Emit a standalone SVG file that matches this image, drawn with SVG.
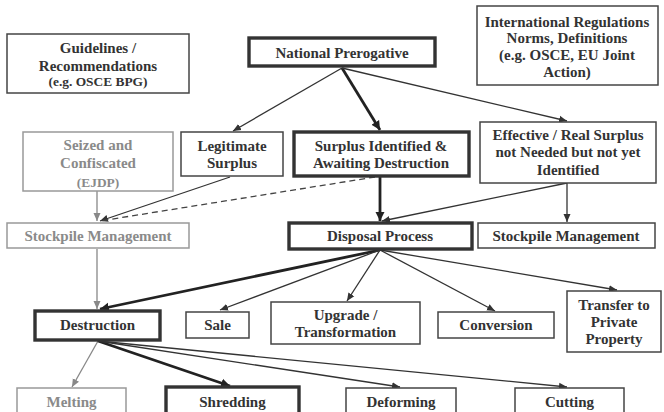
<svg xmlns="http://www.w3.org/2000/svg" width="664" height="412" viewBox="0 0 664 412">
<style>
text{font-family:"Liberation Serif","Times New Roman",serif;font-weight:bold;font-size:15px;fill:#333;text-anchor:middle}
text.g{fill:#8a8a8a}
text.s{font-size:13.4px}
rect{fill:#fff}
.thin{stroke:#444;stroke-width:1.5}
.thick{stroke:#333;stroke-width:3.4}
.gray{stroke:#999;stroke-width:1.5}
line{fill:none}
.c{stroke:#333;stroke-width:1.3}
.cT{stroke:#222;stroke-width:2.8}
.cG{stroke:#888;stroke-width:1.3}
.cD{stroke:#444;stroke-width:1.3;stroke-dasharray:6,4}
</style>
<defs>
<marker id="a" markerUnits="userSpaceOnUse" markerWidth="10" markerHeight="8" refX="8" refY="4" orient="auto"><path d="M0,0.5 L8,4 L0,7.5 Z" fill="#333"/></marker>
<marker id="aT" markerUnits="userSpaceOnUse" markerWidth="12" markerHeight="10" refX="9" refY="5" orient="auto"><path d="M0,0.5 L9,5 L0,9.5 Z" fill="#222"/></marker>
<marker id="aG" markerUnits="userSpaceOnUse" markerWidth="10" markerHeight="8" refX="8" refY="4" orient="auto"><path d="M0,0.5 L8,4 L0,7.5 Z" fill="#888"/></marker>
</defs>
<rect width="664" height="412" fill="#fff"/>
<g id="connectors">
<line class="c" x1="342" y1="68" x2="233" y2="131" marker-end="url(#a)"/>
<line class="cT" x1="342" y1="68" x2="380" y2="130" marker-end="url(#aT)"/>
<line class="c" x1="342" y1="68" x2="567" y2="121" marker-end="url(#a)"/>
<line class="cG" x1="97" y1="191" x2="97" y2="221" marker-end="url(#aG)"/>
<line class="c" x1="230" y1="177" x2="100" y2="221" marker-end="url(#a)"/>
<line class="cD" x1="375" y1="177" x2="100" y2="221"/>
<line class="cT" x1="380" y1="176" x2="380" y2="221" marker-end="url(#aT)"/>
<line class="c" x1="567" y1="183" x2="382" y2="221" marker-end="url(#a)"/>
<line class="c" x1="567" y1="183" x2="567" y2="222" marker-end="url(#a)"/>
<line class="cG" x1="97" y1="249" x2="97" y2="309" marker-end="url(#aG)"/>
<line class="cT" x1="380" y1="250" x2="100" y2="309" marker-end="url(#aT)"/>
<line class="c" x1="380" y1="250" x2="220" y2="310" marker-end="url(#a)"/>
<line class="c" x1="380" y1="250" x2="347" y2="301" marker-end="url(#a)"/>
<line class="c" x1="380" y1="250" x2="495" y2="311" marker-end="url(#a)"/>
<line class="c" x1="380" y1="250" x2="617" y2="290" marker-end="url(#a)"/>
<line class="cG" x1="98" y1="341" x2="72" y2="387" marker-end="url(#aG)"/>
<line class="cT" x1="98" y1="341" x2="230" y2="386" marker-end="url(#aT)"/>
<line class="c" x1="98" y1="341" x2="400" y2="387" marker-end="url(#a)"/>
<line class="c" x1="98" y1="341" x2="567" y2="387" marker-end="url(#a)"/>
</g>
<g id="guidelines"><rect class="thin" x="7" y="34" width="182" height="59"/><text x="98" y="53">Guidelines /</text><text x="98" y="70.5">Recommendations</text><text class="s" x="98" y="86">(e.g. OSCE BPG)</text></g>
<g id="national"><rect class="thick" x="249" y="38" width="186" height="28"/><text x="342" y="57.5">National Prerogative</text></g>
<g id="international"><rect class="thin" x="477" y="6" width="181" height="79"/><text x="567" y="26.5">International Regulations</text><text x="567" y="43">Norms, Definitions</text><text x="567" y="60">(e.g. OSCE, EU Joint</text><text x="567" y="77">Action)</text></g>
<g id="seized"><rect class="gray" x="23" y="132" width="150" height="59"/><text class="g" x="98" y="150">Seized and</text><text class="g" x="98" y="168">Confiscated</text><text class="g s" x="98" y="186.5">(EJDP)</text></g>
<g id="legitimate"><rect class="thin" x="181" y="132" width="102" height="44"/><text x="232" y="151">Legitimate</text><text x="232" y="168">Surplus</text></g>
<g id="identified"><rect class="thick" x="294" y="132" width="175" height="44"/><text x="381" y="150.5">Surplus Identified &amp;</text><text x="381" y="168">Awaiting Destruction</text></g>
<g id="effective"><rect class="thin" x="480" y="122" width="176" height="61"/><text x="568" y="140">Effective / Real Surplus</text><text x="568" y="157">not Needed but not yet</text><text x="568" y="175">Identified</text></g>
<g id="stockpile-left"><rect class="gray" x="7" y="223" width="182" height="25"/><text class="g" x="98" y="241">Stockpile Management</text></g>
<g id="disposal"><rect class="thick" x="289" y="223" width="183" height="26"/><text x="380" y="241">Disposal Process</text></g>
<g id="stockpile-right"><rect class="thin" x="478" y="223" width="177" height="25"/><text x="566" y="241">Stockpile Management</text></g>
<g id="destruction"><rect class="thick" x="35" y="311" width="125" height="29"/><text x="97.5" y="330">Destruction</text></g>
<g id="sale"><rect class="thin" x="186" y="312" width="63" height="26"/><text x="217.5" y="330">Sale</text></g>
<g id="upgrade"><rect class="thin" x="271" y="302" width="149" height="42"/><text x="345.5" y="320">Upgrade /</text><text x="345.5" y="337">Transformation</text></g>
<g id="conversion"><rect class="thin" x="438" y="312" width="116" height="26"/><text x="496" y="330">Conversion</text></g>
<g id="transfer"><rect class="thin" x="567" y="291" width="94" height="61"/><text x="614" y="310">Transfer to</text><text x="614" y="327">Private</text><text x="614" y="344">Property</text></g>
<g id="melting"><rect class="gray" x="17" y="388" width="109" height="30"/><text class="g" x="71.5" y="407">Melting</text></g>
<g id="shredding"><rect class="thick" x="166" y="387" width="133" height="31"/><text x="232.5" y="407">Shredding</text></g>
<g id="deforming"><rect class="thin" x="346" y="388" width="110" height="30"/><text x="401" y="407">Deforming</text></g>
<g id="cutting"><rect class="thin" x="515" y="388" width="109" height="30"/><text x="569.5" y="407">Cutting</text></g>
</svg>
